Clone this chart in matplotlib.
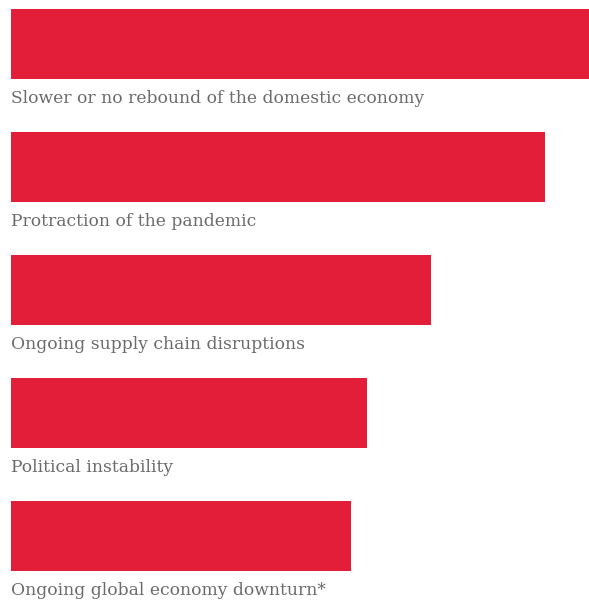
import numpy as np
import matplotlib.pyplot as plt

categories = [
    "Slower or no rebound of the domestic economy",
    "Protraction of the pandemic",
    "Ongoing supply chain disruptions",
    "Political instability",
    "Ongoing global economy downturn*",
]
values = [52, 48, 37.8, 32, 30.6]

RED = "#e31e38"
GREY = "#6b6b6b"

W, H = 589, 603
fig = plt.figure(figsize=(W / 100, H / 100), dpi=100)
ax = fig.add_axes([11 / W, 0, 1 - 11 / W, 1])

pos = np.arange(len(categories))
ax.barh(pos, values, height=70 / 123, color=RED)

for p, label in zip(pos, categories):
    ax.text(0, p + 0.44, label, ha="left", va="center",
            fontsize=12.3, color=GREY, family="DejaVu Serif")

ax.set_xlim(0, values[0])
ax.set_ylim((H - 44) / 123, -44 / 123)
ax.axis("off")

fig.savefig("out.png", dpi=100)
